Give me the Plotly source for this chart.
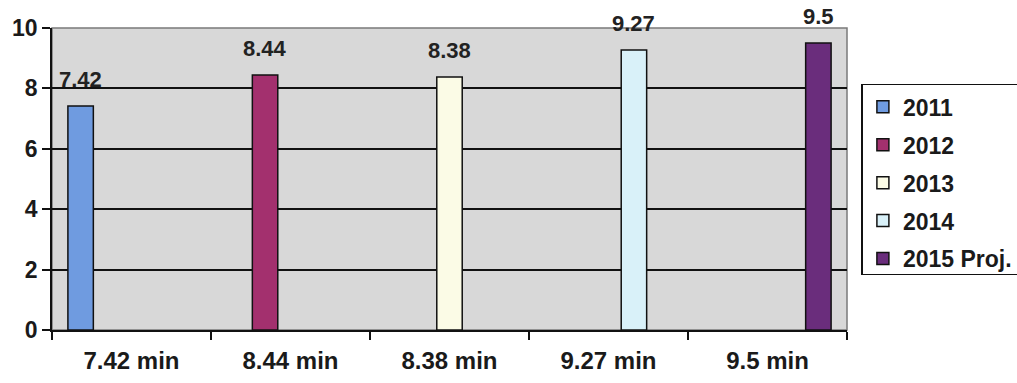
import plotly.graph_objects as go

categories = ["7.42 min", "8.44 min", "8.38 min", "9.27 min", "9.5 min"]
series_names = ["2011", "2012", "2013", "2014", "2015 Proj."]
values = [7.42, 8.44, 8.38, 9.27, 9.5]
labels = ["7.42", "8.44", "8.38", "9.27", "9.5"]
colors = ["#6f9be0", "#a3306e", "#fbfbe6", "#d9f1f9", "#6a2d7c"]

FONT = "Liberation Sans, Arial"
BARGAP = 0.2
n = len(series_names)
slot = (1 - BARGAP) / n

fig = go.Figure()
for i, name in enumerate(series_names):
    y = [values[i] if j == i else None for j in range(len(categories))]
    fig.add_trace(go.Bar(
        x=categories, y=y, name=name,
        marker=dict(color=colors[i], line=dict(color="#111111", width=1.5)),
        legendgroup=name,
    ))
    fig.add_annotation(
        x=i + (i - (n - 1) / 2) * slot, y=values[i], xref="x", yref="y",
        text=labels[i], showarrow=False, yanchor="bottom", yshift=12,
        font=dict(family=FONT, size=22, color="#222222", weight="bold"),
    )

fig.update_layout(
    width=1017, height=383,
    margin=dict(l=52, r=170, t=28, b=53),
    paper_bgcolor="#ffffff",
    plot_bgcolor="#d8d8d8",
    barmode="group", bargap=BARGAP, bargroupgap=0,
    font=dict(family=FONT, color="#1a1a1a"),
    legend=dict(
        xref="container", yref="container",
        x=0.847, y=0.781, xanchor="left", yanchor="top",
        bgcolor="#ffffff", bordercolor="#111111", borderwidth=1.5,
        font=dict(family=FONT, size=23, weight="bold", color="#1a1a1a"),
        tracegroupgap=5, itemwidth=30,
    ),
    showlegend=True,
)
fig.update_xaxes(
    type="category", tickson="boundaries", ticks="outside", ticklen=8,
    tickcolor="#111111", tickwidth=1.5, automargin=False,
    showline=True, linecolor="#111111", linewidth=1.5,
    tickfont=dict(family=FONT, size=24, weight="bold", color="#1a1a1a"),
    ticklabelstandoff=8,
    showgrid=False, mirror=False,
)
fig.update_yaxes(
    range=[0, 10], tickvals=[0, 2, 4, 6, 8, 10], ticks="outside", ticklen=8,
    tickcolor="#111111", tickwidth=1.5, automargin=False,
    showline=True, linecolor="#111111", linewidth=1.5,
    showgrid=True, gridcolor="#111111", gridwidth=1.5,
    tickfont=dict(family=FONT, size=23, weight="bold", color="#1a1a1a"),
    zeroline=False,
)
fig.add_shape(type="rect", xref="paper", yref="paper", x0=0, y0=0, x1=1, y1=1,
              line=dict(color="#7a7a7a", width=1.5), layer="below")

fig.write_html("out.html", config={"displayModeBar": False},
               post_script="document.body.style.margin='0';")
